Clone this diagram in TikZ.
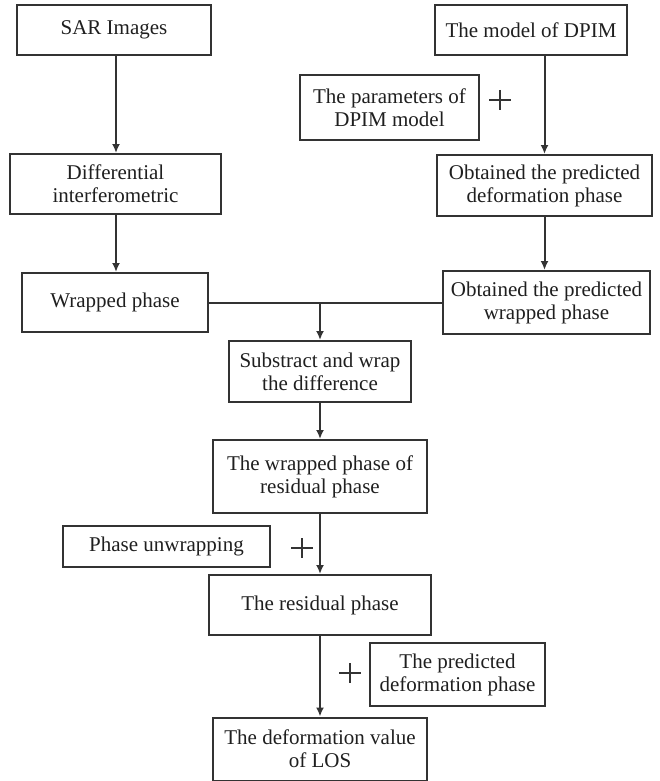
\documentclass[tikz,border=0pt]{standalone}
\usepackage{fontspec}
\setmainfont{Liberation Serif}
\usetikzlibrary{arrows.meta}
\begin{document}
\begin{tikzpicture}[x=1pt,y=-1pt,
  box/.style={draw=black!80, line width=2pt, inner sep=0pt, align=center,
    font=\fontsize{21}{23}\selectfont, text=black!88},
  arr/.style={draw=black!80, line width=2pt, -{Latex[length=9pt,width=8pt]}},
  ln/.style={draw=black!80, line width=2pt},
  plus/.style={inner sep=0pt, minimum width=22pt, minimum height=20pt,
    path picture={\draw[black!80, line width=1.4pt]
      (path picture bounding box.west) -- (path picture bounding box.east)
      (path picture bounding box.north) -- (path picture bounding box.south);}}]
\useasboundingbox (0,0) rectangle (659,781);
\node[box, minimum width=194pt, minimum height=50pt] (sar) at (114,30) {SAR Images};
\node[box, minimum width=211pt, minimum height=60pt] (diff) at (115.5,184) {Differential\\interferometric};
\node[box, minimum width=186pt, minimum height=59pt] (wrap) at (115,302.5) {Wrapped phase};
\node[box, minimum width=192pt, minimum height=50pt] (model) at (531,30) {The model of DPIM};
\node[box, minimum width=179pt, minimum height=65pt] (param) at (389.5,107.5) {The parameters of\\DPIM model};
\node[plus] (p1) at (500,100) {};
\node[box, minimum width=215pt, minimum height=61pt] (odef) at (544.5,185.5) {Obtained the predicted\\deformation phase};
\node[box, minimum width=207pt, minimum height=63pt] (owrap) at (546.5,302.5) {Obtained the predicted\\wrapped phase};
\node[box, minimum width=182pt, minimum height=61pt] (sub) at (320,371.5) {Substract and wrap\\the difference};
\node[box, minimum width=214pt, minimum height=73pt] (wres) at (320,476.5) {The wrapped phase of\\residual phase};
\node[box, minimum width=207pt, minimum height=41pt] (unw) at (166.5,546.5) {Phase unwrapping};
\node[plus] (p2) at (302,548) {};
\node[box, minimum width=222pt, minimum height=60pt] (res) at (320,605) {The residual phase};
\node[box, minimum width=175pt, minimum height=63pt] (pdef) at (457.5,674.5) {The predicted\\deformation phase};
\node[plus] (p3) at (350,673) {};
\node[box, minimum width=214pt, minimum height=63pt] (los) at (320,749) {The deformation value\\of LOS};
\draw[arr] (sar.south -| 116,0) -- (diff.north -| 116,0);
\draw[arr] (diff.south -| 116,0) -- (wrap.north -| 116,0);
\draw[arr] (odef.north |- model.south) -- (odef.north);
\draw[arr] (odef.south) -- (odef.south |- owrap.north);
\coordinate (j) at (sub.north |- wrap.east);
\draw[ln] (wrap.east) -- (owrap.west);
\draw[arr] (j) -- (sub.north);
\draw[arr] (sub.south) -- (wres.north);
\draw[arr] (wres.south) -- (res.north);
\draw[arr] (res.south) -- (los.north);
\end{tikzpicture}
\end{document}
